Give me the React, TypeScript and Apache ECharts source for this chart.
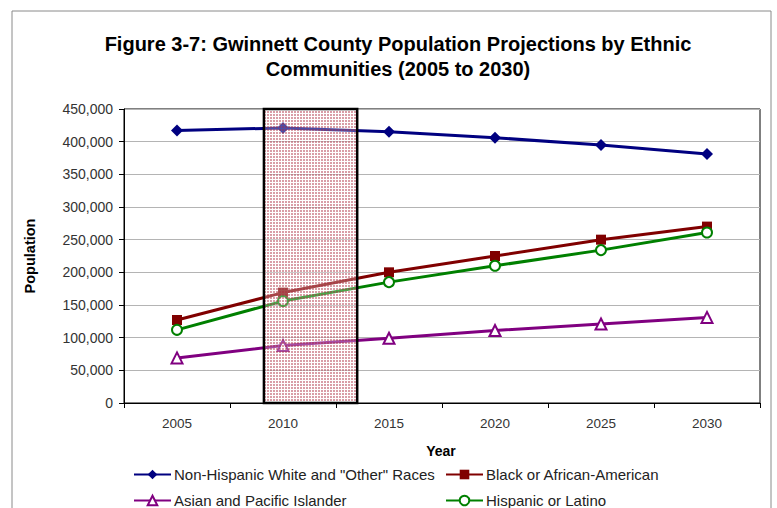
import React, { useEffect, useRef } from "react";
import * as echarts from "echarts";

const years = ["2005", "2010", "2015", "2020", "2025", "2030"];
const whiteOther = [417000, 421000, 415000, 406000, 395000, 381000];
const black = [127000, 169000, 200000, 225000, 250000, 270000];
const asian = [69000, 88000, 99000, 111000, 121000, 131000];
const hispanic = [112000, 156000, 185000, 210000, 234000, 261000];
const shadedSpan = [2009.1, 2013.5];

const NAME_WHITE = "Non-Hispanic White and \"Other\" Races";
const NAME_BLACK = "Black or African-American";
const NAME_ASIAN = "Asian and Pacific Islander";
const NAME_HISP = "Hispanic or Latino";

const FONT = "Liberation Sans, Arial, sans-serif";

function makePattern() {
  const c = document.createElement("canvas");
  c.width = 3;
  c.height = 3;
  const ctx = c.getContext("2d");
  if (ctx) {
    ctx.fillStyle = "rgba(255,255,255,0.3)";
    ctx.fillRect(0, 0, 3, 3);
    ctx.fillStyle = "rgba(170,40,60,0.45)";
    ctx.fillRect(0, 0, 2, 2);
  }
  return c;
}

function legendAt(name: string, left: number, top: number) {
  return {
    orient: "horizontal",
    left,
    top,
    itemWidth: 37,
    itemHeight: 12,
    padding: 0,
    textStyle: { fontFamily: FONT, fontSize: 15, color: "#222", padding: [0, 0, 0, -2] },
    data: [name],
  };
}

export default function App() {
  const ref = useRef<HTMLDivElement>(null);
  useEffect(() => {
    if (!ref.current) return;
    const chart = echarts.init(ref.current, null, { renderer: "svg" });
    const pattern = makePattern();
    const option: any = {
      animation: false,
      backgroundColor: "#fff",
      graphic: [
        {
          type: "rect",
          shape: { x: 12, y: 11, width: 759, height: 520 },
          style: { fill: "none", stroke: "#8a8a8a", lineWidth: 1 },
          silent: true,
          z: -10,
        },
        {
          type: "text",
          x: 398,
          y: 56,
          style: {
            text: "Figure 3-7: Gwinnett County Population Projections by Ethnic\nCommunities (2005 to 2030)",
            font: `bold 20px ${FONT}`,
            fill: "#000",
            align: "center",
            verticalAlign: "middle",
            lineHeight: 25,
          },
        },
        {
          type: "text",
          x: 441,
          y: 451,
          style: {
            text: "Year",
            font: `bold 14px ${FONT}`,
            fill: "#000",
            align: "center",
            verticalAlign: "middle",
          },
        },
        {
          type: "text",
          x: 30,
          y: 256,
          rotation: Math.PI / 2,
          style: {
            text: "Population",
            font: `bold 14.5px ${FONT}`,
            fill: "#000",
            align: "center",
            verticalAlign: "middle",
          },
        },
      ],
      grid: {
        left: 124,
        right: 17,
        top: 109,
        bottom: 105,
        show: true,
        borderColor: "#000",
        borderWidth: 1,
        backgroundColor: "transparent",
      },
      legend: [
        legendAt(NAME_WHITE, 133, 467),
        legendAt(NAME_BLACK, 445, 467),
        legendAt(NAME_ASIAN, 133, 493),
        legendAt(NAME_HISP, 445, 493),
      ],
      xAxis: [
        {
          type: "category",
          data: years,
          boundaryGap: true,
          axisLine: { lineStyle: { color: "#000", width: 1 } },
          axisTick: { show: true, length: 5, inside: false, lineStyle: { color: "#000" } },
          axisLabel: { fontFamily: FONT, fontSize: 13.5, color: "#333", margin: 13 },
          splitLine: { show: false },
        },
        {
          type: "value",
          min: 2002.5,
          max: 2032.5,
          show: false,
        },
      ],
      yAxis: {
        type: "value",
        min: 0,
        max: 450000,
        interval: 50000,
        axisLine: { show: true, lineStyle: { color: "#000", width: 1 } },
        axisTick: { show: true, length: 5, lineStyle: { color: "#000" } },
        axisLabel: {
          fontFamily: FONT,
          fontSize: 14,
          color: "#333",
          margin: 11,
          formatter: (v: number) => v.toLocaleString("en-US"),
        },
        splitLine: { show: true, lineStyle: { color: "#b4b4b4", width: 1 } },
      },
      series: [
        {
          name: NAME_WHITE,
          type: "line",
          data: whiteOther,
          symbol: "diamond",
          symbolSize: 12,
          color: "#000080",
          lineStyle: { color: "#000080", width: 3 },
          itemStyle: { color: "#000080" },
          z: 3,
        },
        {
          name: NAME_BLACK,
          type: "line",
          data: black,
          symbol: "rect",
          symbolSize: 10,
          color: "#800000",
          lineStyle: { color: "#800000", width: 3 },
          itemStyle: { color: "#800000" },
          z: 3,
        },
        {
          name: NAME_ASIAN,
          type: "line",
          data: asian,
          symbol: "emptyTriangle",
          symbolSize: 11,
          color: "#800080",
          lineStyle: { color: "#800080", width: 3 },
          itemStyle: { color: "#800080", borderColor: "#800080", borderWidth: 2 },
          z: 3,
        },
        {
          name: NAME_HISP,
          type: "line",
          data: hispanic,
          symbol: "emptyCircle",
          symbolSize: 10,
          color: "#008000",
          lineStyle: { color: "#008000", width: 3 },
          itemStyle: { color: "#008000", borderColor: "#008000", borderWidth: 2 },
          z: 3,
        },
        {
          name: "shade",
          type: "custom",
          xAxisIndex: 1,
          yAxisIndex: 0,
          z: 10,
          silent: true,
          data: [[shadedSpan[0], shadedSpan[1]]],
          renderItem: (params: any, api: any) => {
            const p0 = api.coord([api.value(0), 450000]);
            const p1 = api.coord([api.value(1), 0]);
            return {
              type: "rect",
              shape: { x: p0[0], y: p0[1], width: p1[0] - p0[0], height: p1[1] - p0[1] },
              style: {
                fill: { image: pattern, repeat: "repeat" },
                stroke: "#000",
                lineWidth: 2.5,
              },
            };
          },
        },
      ],
    };
    chart.setOption(option);
    return () => chart.dispose();
  }, []);
  return (
    <div
      ref={ref}
      style={{ position: "fixed", left: 0, top: 0, width: 777, height: 508 }}
    />
  );
}
